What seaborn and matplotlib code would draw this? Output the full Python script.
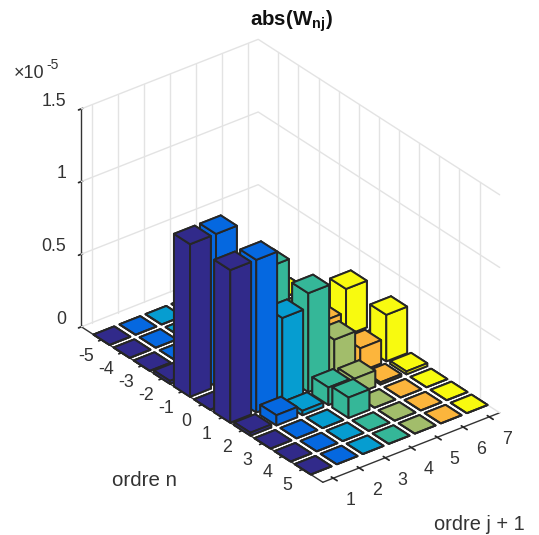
import numpy as np
import matplotlib
matplotlib.use("Agg")
import matplotlib.pyplot as plt
import seaborn as sns
from mpl_toolkits.mplot3d import Axes3D  # noqa

orders_n = [-5, -4, -3, -2, -1, 0, 1, 2, 3, 4, 5]
orders_j = [1, 2, 3, 4, 5, 6, 7]
z_ticks = [0, 0.5, 1, 1.5]
z_labels = ["0", "0.5", "1", "1.5"]

# heights in units of 1e-5, one list per j, rows n = -5 .. 5
col_j1 = [0, 0, 0, 0.02, 1.05, 0, 1.05, 0.02, 0, 0, 0]
col_j2 = [0, 0, 0, 0.07, 1.05, 0, 1.05, 0.07, 0, 0, 0]
col_j3 = [0, 0, 0, 0.03, 0.58, 0, 0.58, 0.03, 0, 0, 0]
col_j4 = [0, 0, 0.14, 0.12, 0.68, 0, 0.68, 0.12, 0.14, 0, 0]
col_j5 = [0, 0, 0, 0.11, 0.29, 0, 0.29, 0.11, 0, 0, 0]
col_j6 = [0, 0, 0, 0.015, 0.16, 0, 0.16, 0.015, 0, 0, 0]
col_j7 = [0, 0, 0, 0.02, 0.32, 0, 0.32, 0.02, 0, 0, 0]
columns = [col_j1, col_j2, col_j3, col_j4, col_j5, col_j6, col_j7]

parula = ["#312a8a", "#0568e0", "#069dd0", "#35b798", "#a2bd6b", "#fcb53c", "#f8fa0f"]

sns.set_theme(style="white")
plt.rcParams["font.family"] = ["Liberation Sans", "DejaVu Sans"]
plt.rcParams["mathtext.fontset"] = "custom"
plt.rcParams["mathtext.rm"] = "Liberation Sans"
plt.rcParams["mathtext.bf"] = "Liberation Sans:bold"
palette = sns.color_palette(parula)

fig = plt.figure(figsize=(5.39, 5.35), dpi=100, facecolor="white")
ax = fig.add_axes([0, 0, 1, 1], projection="3d", proj_type="ortho", computed_zorder=False)
ax.set_position([0.041, 0.0144, 0.97, 0.97])
ax.view_init(elev=30.2, azim=232)
ax.set_box_aspect((226, 395, 254), zoom=0.968)

X0, X1 = 0.6, 7.4
Y0, Y1 = 6, -6
ax.set_xlim(X0, X1, view_margin=0)
ax.set_ylim(Y0, Y1, view_margin=0)
ax.set_zlim(0, 1.5, view_margin=0)

for axis in (ax.xaxis, ax.yaxis, ax.zaxis):
    axis.set_pane_color((1, 1, 1, 1))
    axis.pane.set_edgecolor((1, 1, 1, 0))
    axis.line.set_color("#333333")
    axis.line.set_linewidth(1.0)
ax.grid(False)

grid_c = "#e3e3e3"
for j in orders_j:
    ax.plot([j, j], [Y1, Y1], [0, 1.5], color=grid_c, lw=1, zorder=1)
for n in orders_n:
    ax.plot([X1, X1], [n, n], [0, 1.5], color=grid_c, lw=1, zorder=1)
for z in z_ticks:
    ax.plot([X0, X1, X1], [Y1, Y1, Y0], [z, z, z], color=grid_c, lw=1, zorder=1)

ax.set_xticks(orders_j)
ax.set_xticklabels([str(j) for j in orders_j])
ax.set_yticks(orders_n)
ax.set_yticklabels([str(n) for n in orders_n])
ax.set_zticks(z_ticks)
ax.set_zticklabels(z_labels)
ax.tick_params(axis="x", labelsize=12.8, labelcolor="#333333", pad=6)
ax.tick_params(axis="y", labelsize=12.8, labelcolor="#333333", pad=9)
ax.tick_params(axis="z", labelsize=12.8, labelcolor="#333333", pad=-1)
for lab in ax.yaxis.get_ticklabels():
    lab.set_va("bottom")
for lab in ax.xaxis.get_ticklabels():
    lab.set_va("baseline")
for lab in ax.zaxis.get_ticklabels():
    lab.set_ha("right")
    lab.set_va("baseline")

w = 0.8
# far to near: larger j and smaller n are farther from the camera
order = sorted(
    [(jj, ii) for jj in range(len(orders_j)) for ii in range(len(orders_n))],
    key=lambda t: (-(orders_j[t[0]] * 0.6 - orders_n[t[1]] * 0.8)),
)
for k, (jj, ii) in enumerate(order):
    h = columns[jj][ii]
    ax.bar3d(orders_j[jj] - w / 2, orders_n[ii] - w / 2, 0, w, w, h,
             color=palette[jj], edgecolor="#262626", linewidth=1.4,
             shade=False, zorder=10 + k)

fig.text(291 / 539, 1 - 21 / 535, r"abs(W$_{\mathbf{nj}}$)", ha="center", va="center",
         fontsize=14.8, fontweight="bold", color="#111111")
fig.text(14 / 539, 1 - 73 / 535, "×10", ha="left", va="center",
         fontsize=13, color="#333333")
fig.text(46 / 539, 1 - 65 / 535, "-5", ha="left", va="center",
         fontsize=10, color="#333333")
fig.text(145 / 539, 1 - 480 / 535, "ordre n", ha="center", va="center",
         fontsize=14.8, color="#333333")
fig.text(479 / 539, 1 - 525 / 535, "ordre j + 1", ha="center", va="center",
         fontsize=14.4, color="#333333")

fig.savefig("out.png", dpi=100, facecolor="white")
